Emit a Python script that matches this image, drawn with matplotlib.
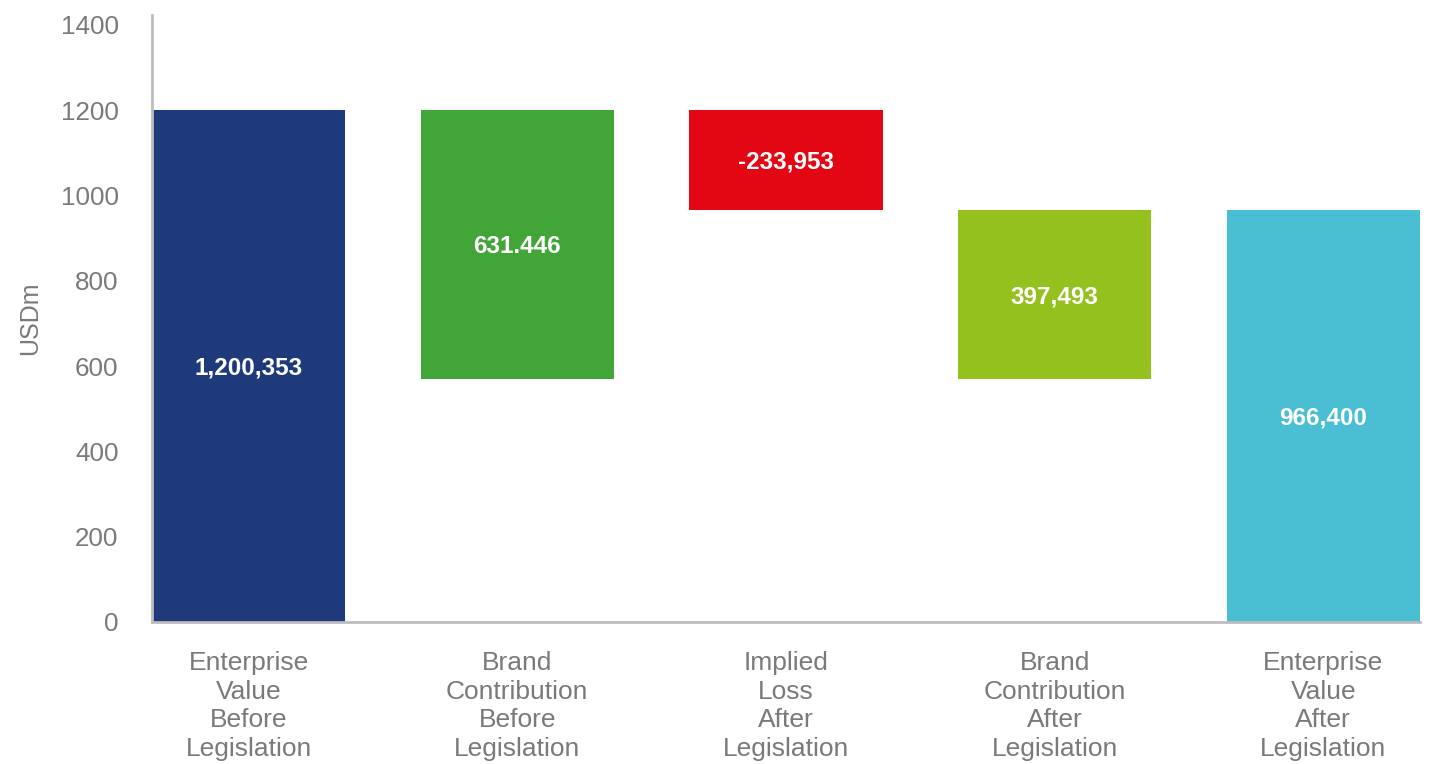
# Waterfall chart: enterprise value before / after legislation

import matplotlib
matplotlib.use('Agg')
import matplotlib.pyplot as plt

plt.rcParams['font.family'] = ['Liberation Sans', 'DejaVu Sans']

# data
categories = ['Enterprise\nValue\nBefore\nLegislation',
              'Brand\nContribution\nBefore\nLegislation',
              'Implied\nLoss\nAfter\nLegislation',
              'Brand\nContribution\nAfter\nLegislation',
              'Enterprise\nValue\nAfter\nLegislation']
bar_bottoms = [0, 568.907, 966.400, 568.907, 0]
bar_heights = [1200.353, 631.446, 233.953, 397.493, 966.400]
bar_labels = ['1,200,353', '631.446', '-233,953', '397,493', '966,400']
colors = ['#1f3a7b', '#41a637', '#e30613', '#95c11f', '#4abed3']

grey = '#7a7a7a'

fig = plt.figure(figsize=(14.32, 7.64), dpi=100)
ax = fig.add_axes([0.1061, 0.1859, 0.8855, 0.7945])

x = range(len(categories))
ax.bar(x, bar_heights, bottom=bar_bottoms, width=0.72, color=colors)

for i in x:
    ax.text(i, bar_bottoms[i] + bar_heights[i] / 2 - 5, bar_labels[i],
            ha='center', va='center', color='white', fontsize=17.5, fontweight='bold')

ax.set_xlim(-0.36, 4.36)
ax.set_ylim(0, 1423)
ax.set_yticks(range(0, 1401, 200))
ax.set_xticks(list(x))
ax.set_xticklabels(categories, fontsize=19, color=grey, linespacing=1.24)
ax.tick_params(axis='y', labelsize=18.7, labelcolor=grey, length=0, pad=24)
ax.tick_params(axis='x', length=0, pad=21)

ax.set_ylabel('USDm', fontsize=18, color=grey, labelpad=13)

for s in ['top', 'right']:
    ax.spines[s].set_visible(False)
for s in ['left', 'bottom']:
    ax.spines[s].set_color('#bdbdbd')
    ax.spines[s].set_linewidth(2)

fig.savefig('out.png', dpi=100)
